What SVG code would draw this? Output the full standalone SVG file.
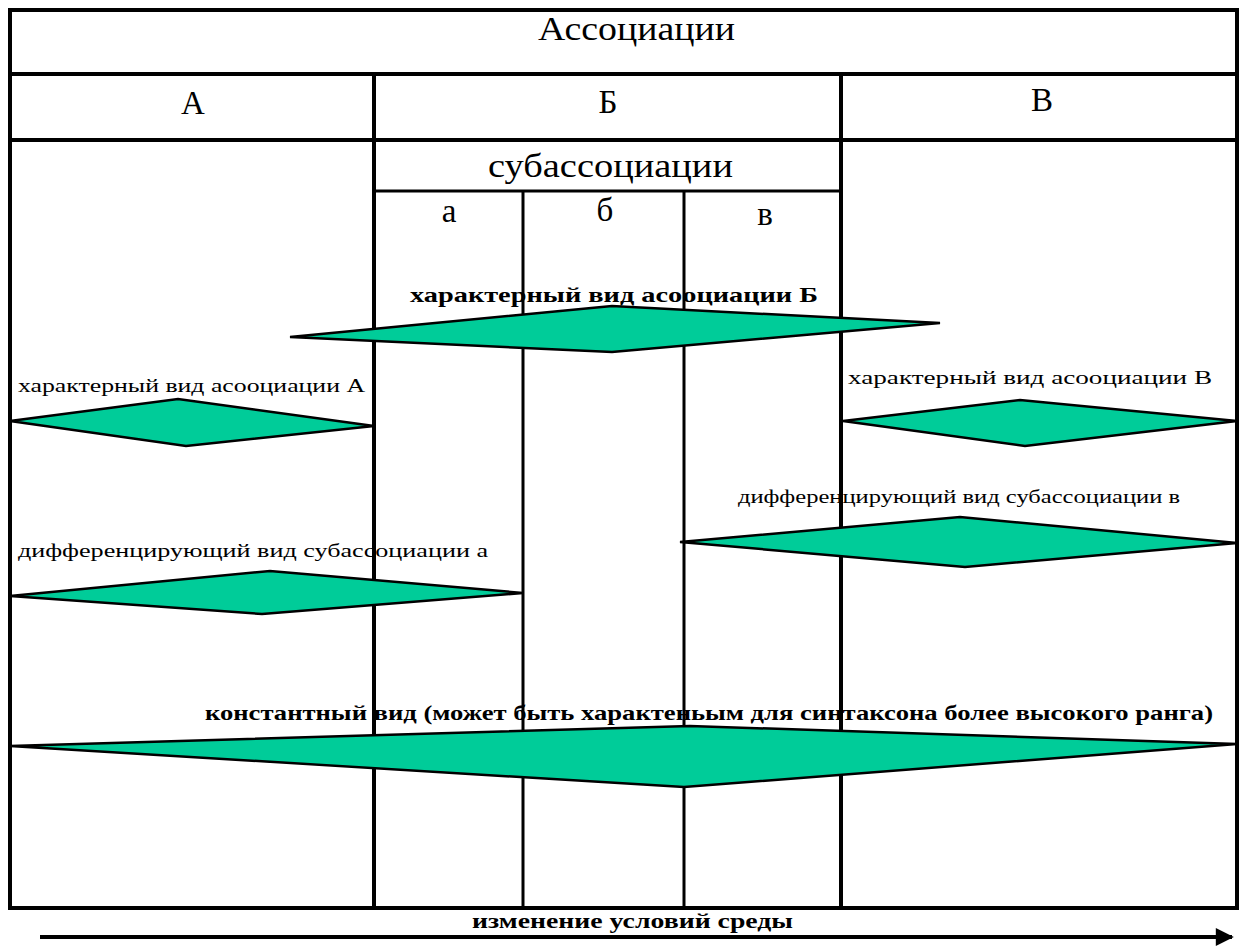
<svg xmlns="http://www.w3.org/2000/svg" width="1241" height="946" viewBox="0 0 1241 946">
<defs>
<style>
.t{font-family:"Liberation Serif","Times New Roman",serif;fill:#000}
.h{font-size:33px}
.n{font-size:19px}
.b{font-size:22px;font-weight:bold}
.thick{stroke:#000;stroke-width:4;fill:none}
.thin{stroke:#000;stroke-width:3;fill:none}
.dia{fill:#00CC99;stroke:#000;stroke-width:2.5;stroke-linejoin:miter}
</style>
<marker id="ah" viewBox="0 0 10 10" refX="9" refY="5" markerWidth="6" markerHeight="4.5" markerUnits="strokeWidth" orient="auto">
<path d="M0,0 L10,5 L0,10 z" fill="#000"/>
</marker>
</defs>
<rect width="1241" height="946" fill="#fff"/>

<g id="labels">
<text class="t n" x="18" y="392" textLength="347" lengthAdjust="spacingAndGlyphs">характерный вид асооциации А</text>
<text class="t n" x="18" y="557" textLength="470" lengthAdjust="spacingAndGlyphs">дифференцирующий вид субассоциации а</text>
<text class="t n" x="848" y="384" textLength="364" lengthAdjust="spacingAndGlyphs">характерный вид асооциации В</text>
<text class="t n" x="738" y="503" textLength="442" lengthAdjust="spacingAndGlyphs">дифференцирующий вид субассоциации в</text>
<text class="t b" x="410" y="302" textLength="408" lengthAdjust="spacingAndGlyphs">характерный вид асооциации Б</text>
<text class="t b" x="205" y="720" textLength="1008" lengthAdjust="spacingAndGlyphs">константный вид (может быть характеньым для синтаксона более высокого ранга)</text>
</g>

<g id="table">
<rect x="10" y="10" width="1227" height="898" class="thick"/>
<line x1="10" y1="74" x2="1237" y2="74" class="thick"/>
<line x1="10" y1="140" x2="1237" y2="140" class="thick"/>
<line x1="374" y1="74" x2="374" y2="908" class="thick"/>
<line x1="841" y1="74" x2="841" y2="908" class="thick"/>
<line x1="374" y1="191" x2="841" y2="191" class="thin"/>
<line x1="523" y1="191" x2="523" y2="908" class="thin"/>
<line x1="684" y1="191" x2="684" y2="908" class="thin"/>
</g>

<g id="header">
<text class="t h" x="538" y="40" textLength="197" lengthAdjust="spacingAndGlyphs">Ассоциации</text>
<text class="t h" x="193" y="114" text-anchor="middle">А</text>
<text class="t h" x="608" y="113" text-anchor="middle">Б</text>
<text class="t h" x="1042" y="111" text-anchor="middle">В</text>
<text class="t h" x="488" y="177" textLength="245" lengthAdjust="spacingAndGlyphs">субассоциации</text>
<text class="t h" x="449" y="222" text-anchor="middle">а</text>
<text class="t h" x="605" y="221" text-anchor="middle">б</text>
<text class="t h" x="765" y="225" text-anchor="middle">в</text>
</g>

<g id="node-B-char">
<polygon class="dia" points="290,337 612,306 940,323 612,352"/>
</g>
<g id="node-A-char">
<polygon class="dia" points="10,421 178,399 374,426 186,446"/>
</g>
<g id="node-a-diff">
<polygon class="dia" points="10,596 270,571 523,593 262,614"/>
</g>
<g id="node-V-char">
<polygon class="dia" points="843,421 1020,400 1237,421 1025,446"/>
</g>
<g id="node-v-diff">
<polygon class="dia" points="680,542 960,517 1237,543 965,567"/>
</g>
<g id="node-const">
<polygon class="dia" points="10,746 690,726 1237,744 684,787"/>
</g>

<g id="connectors">
<line x1="40" y1="937" x2="1232" y2="937" stroke="#000" stroke-width="4" marker-end="url(#ah)"/>
</g>
<g id="axis-label">
<text class="t b" x="472" y="928" textLength="321" lengthAdjust="spacingAndGlyphs">изменение условий среды</text>
</g>
</svg>
